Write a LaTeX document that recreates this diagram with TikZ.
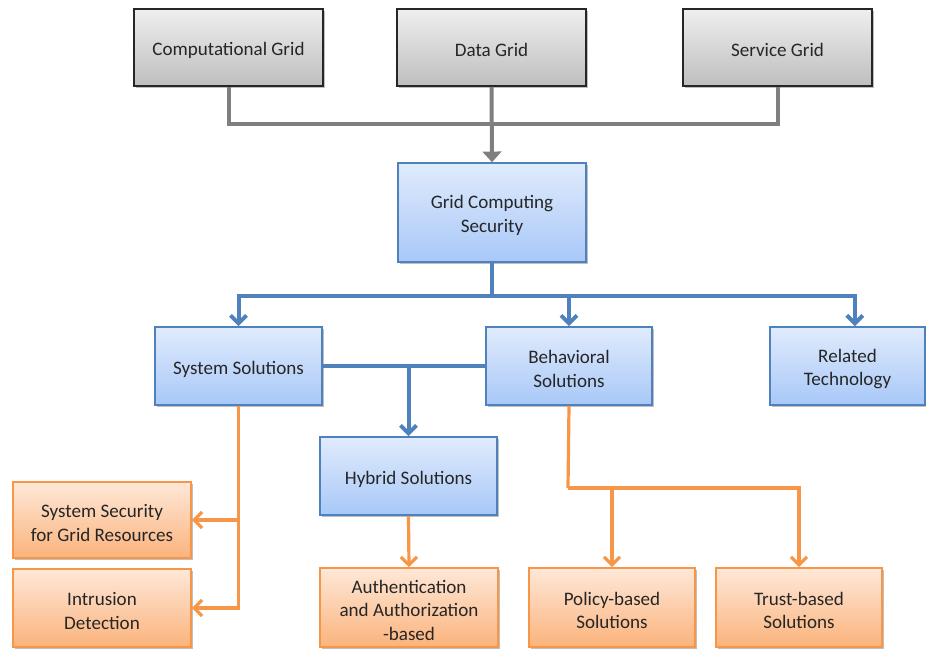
\documentclass[tikz,border=0pt]{standalone}
\usepackage{fontspec}
\setmainfont{Carlito}
\usetikzlibrary{arrows.meta,shadows}

\definecolor{txt}{HTML}{262626}
\definecolor{grayline}{HTML}{7F7F7F}
\definecolor{blueline}{HTML}{4F81BD}
\definecolor{orangeline}{HTML}{F79646}
\definecolor{graytop}{HTML}{EFEFEF}
\definecolor{graybot}{HTML}{BEBEBE}
\definecolor{bluetop}{HTML}{E0EBFC}
\definecolor{bluebot}{HTML}{A8C8F8}
\definecolor{orangetop}{HTML}{FEE8D8}
\definecolor{orangebot}{HTML}{FBB37C}

\tikzset{
  boxbase/.style={rectangle, inner sep=0pt,
    drop shadow={shadow xshift=1.2pt, shadow yshift=-1.5pt, fill=black, opacity=0.25}},
  boxtext/.style={align=center, font=\fontsize{14.3}{17.8}\selectfont,
    text=txt, inner sep=0pt, yshift=-2.2pt},
  graybox/.style={boxbase, draw=black!85, line width=1.2pt, top color=graytop, bottom color=graybot},
  bluebox/.style={boxbase, draw=blueline, line width=1.2pt, top color=bluetop, bottom color=bluebot},
  orangebox/.style={boxbase, draw=orangeline, line width=1.2pt, top color=orangetop, bottom color=orangebot},
  gline/.style={draw=grayline, line width=3pt},
  bline/.style={draw=blueline, line width=3pt},
  oline/.style={draw=orangeline, line width=2.4pt},
  chev/.style={-{Straight Barb[length=6pt,width=12pt]}},
  tri/.style={-{Triangle[length=8pt,width=14pt]}},
}

\begin{document}
\begin{tikzpicture}[x=0.75pt,y=-0.75pt]
\useasboundingbox (0,0) rectangle (926,650);

% grid types
\node[graybox, minimum width=141.75pt, minimum height=57.75pt,
  label={[boxtext]center:Computational Grid}] (comp) at (228.5,47.5) {};
\node[graybox, minimum width=141.75pt, minimum height=57.75pt,
  label={[boxtext]center:Data Grid}] (data) at (491.5,47.5) {};
\node[graybox, minimum width=141.75pt, minimum height=57.75pt,
  label={[boxtext]center:Service Grid}] (serv) at (777.5,47.5) {};

% central topic
\node[bluebox, minimum width=141pt, minimum height=74.25pt,
  label={[boxtext]center:Grid Computing\\Security}] (gcs) at (492,212.5) {};

% solution families
\node[bluebox, minimum width=125.25pt, minimum height=58.5pt,
  label={[boxtext]center:System Solutions}] (sys) at (238.5,366) {};
\node[bluebox, minimum width=124.5pt, minimum height=58.5pt,
  label={[boxtext]center:Behavioral\\Solutions}] (beh) at (569,366) {};
\node[bluebox, minimum width=116.25pt, minimum height=58.5pt,
  label={[boxtext]center:Related\\Technology}] (rel) at (847.5,366) {};
\node[bluebox, minimum width=132.75pt, minimum height=58.5pt,
  label={[boxtext]center:Hybrid Solutions}] (hyb) at (408.5,476) {};

% concrete approaches
\node[orangebox, minimum width=133.5pt, minimum height=57pt,
  label={[boxtext]center:System Security\\for Grid Resources}] (sec) at (102,520) {};
\node[orangebox, minimum width=133.5pt, minimum height=58.5pt,
  label={[boxtext]center:Intrusion\\Detection}] (ids) at (102,608) {};
\node[orangebox, minimum width=133.5pt, minimum height=59.25pt,
  label={[boxtext]center:Authentication\\and Authorization\\-based}] (auth) at (409,607.5) {};
\node[orangebox, minimum width=124.5pt, minimum height=59.25pt,
  label={[boxtext]center:Policy-based\\Solutions}] (pol) at (612,607.5) {};
\node[orangebox, minimum width=124.5pt, minimum height=59.25pt,
  label={[boxtext]center:Trust-based\\Solutions}] (tru) at (799,607.5) {};

% grey connectors
\draw[gline] (comp.south) |- (229,124) -| (serv.south);
\draw[gline, tri] (data.south) -- (gcs.north);

% blue connectors
\coordinate (bj) at (492,296);
\coordinate (relin) at ([xshift=5.5pt]rel.north);
\draw[bline] (gcs.south) -- (bj);
\draw[bline, chev] (bj) -| (sys.north);
\draw[bline, chev] (bj) -| (beh.north);
\draw[bline, chev] (bj) -| (relin);
\draw[bline] (sys.east) -- (beh.west);
\draw[bline, chev] (sys.east -| hyb.north) -- (hyb.north);

% orange connectors
\draw[oline, chev] (sys.south) |- (ids.east);
\draw[oline, chev] (sys.south |- sec.east) -- (sec.east);
\draw[oline, chev] (hyb.south) -- (auth.north);
\coordinate (oj) at (568,488);
\draw[oline] (beh.south) -- (oj);
\draw[oline, chev] (oj) -| (tru.north);
\draw[oline, chev] (oj -| pol.north) -- (pol.north);
\end{tikzpicture}
\end{document}
